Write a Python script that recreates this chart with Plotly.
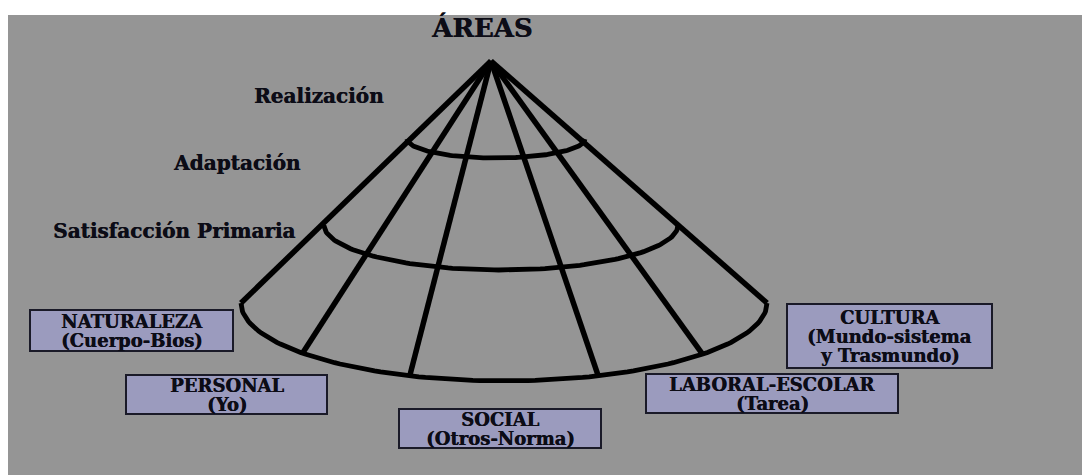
import numpy as np
import plotly.graph_objects as go

# --- diagram content -------------------------------------------------------
title = "ÁREAS"

# cone apex and the three elliptical rings (inner -> outer)
apex_x, apex_y = 491, 61
ring_labels = ["Realización", "Adaptación", "Satisfacción Primaria"]
ring_cx = [496, 501, 504]
ring_cy = [139, 225, 303]
ring_a = [89, 177, 263]
ring_b = [19, 45, 78]

# spokes end on the outer ring, given as ellipse angles (deg)
spoke_angles = [180, 140, 111, 69, 41, 0]

# area boxes
box_titles = ["NATURALEZA", "PERSONAL", "SOCIAL", "LABORAL-ESCOLAR", "CULTURA"]
box_subtitles = [
    ["(Cuerpo-Bios)"],
    ["(Yo)"],
    ["(Otros-Norma)"],
    ["(Tarea)"],
    ["(Mundo-sistema", "y Trasmundo)"],
]

# --- layout helpers (positions only) --------------------------------------
label_x = [319, 237, 174]
label_y = [96, 163, 231]
box_x0 = [30, 126, 399, 646, 787]
box_x1 = [233, 327, 601, 898, 992]
box_y0 = [310, 375, 409, 374, 304]
box_y1 = [351, 414, 448, 413, 368]

W, H = 1090, 475
PAD = 8  # page body margin, shift the view so it lines up with the window
BG = "#959595"
BOX_FILL = "#9b9bbe"
INK = "#0c0c16"
FONT = "DejaVu Serif"
HEAVY = f"0.5px 0 0 {INK}"  # thicken the bold text a little


def txt_font(size):
    return dict(family=FONT, size=size, color=INK, shadow=HEAVY)


fig = go.Figure()

# rings
t = np.linspace(0, np.pi, 120)
for cx, cy, a, b in zip(ring_cx, ring_cy, ring_a, ring_b):
    fig.add_trace(go.Scatter(
        x=cx + a * np.cos(t), y=cy + b * np.sin(t),
        mode="lines", line=dict(color="black", width=4.8),
        hoverinfo="skip", showlegend=False,
    ))

# spokes from the apex to the outer ring
sx, sy = [], []
for ang in spoke_angles:
    r = np.radians(ang)
    sx += [apex_x, ring_cx[-1] + ring_a[-1] * np.cos(r), None]
    sy += [apex_y, ring_cy[-1] + ring_b[-1] * np.sin(r), None]
fig.add_trace(go.Scatter(
    x=sx, y=sy, mode="lines", line=dict(color="black", width=5.5),
    hoverinfo="skip", showlegend=False,
))

shapes = [dict(type="rect", xref="x", yref="y", x0=7, x1=W + PAD, y0=15, y1=H + PAD,
               fillcolor=BG, line=dict(width=0), layer="below")]
annotations = [dict(x=482, y=27, text=f"<b>{title}</b>", showarrow=False,
                    font=txt_font(26))]

for txt, x, y in zip(ring_labels, label_x, label_y):
    annotations.append(dict(x=x, y=y, text=f"<b>{txt}</b>", showarrow=False,
                            font=txt_font(20)))

line_gap = 19
for ttl, subs, x0, x1, y0, y1 in zip(box_titles, box_subtitles, box_x0, box_x1, box_y0, box_y1):
    shapes.append(dict(type="rect", xref="x", yref="y", x0=x0, x1=x1, y0=y0, y1=y1,
                       fillcolor=BOX_FILL, line=dict(color="#1a1a28", width=2)))
    lines = [ttl] + subs
    yc = (y0 + y1) / 2 - line_gap * (len(lines) - 1) / 2
    for i, ln in enumerate(lines):
        annotations.append(dict(x=(x0 + x1) / 2, y=yc + i * line_gap, text=f"<b>{ln}</b>",
                                showarrow=False, font=txt_font(18)))

fig.update_layout(
    width=W, height=H,
    margin=dict(l=0, r=0, t=0, b=0),
    paper_bgcolor=BG, plot_bgcolor=BG,
    shapes=shapes, annotations=annotations,
    xaxis=dict(range=[PAD, W + PAD], visible=False, fixedrange=True),
    yaxis=dict(range=[H + PAD, PAD], visible=False, fixedrange=True),
)
# white page strips at top and left of the grey panel
fig.add_shape(type="rect", xref="x", yref="y", x0=PAD, x1=W + PAD, y0=PAD, y1=15,
              fillcolor="white", line=dict(width=0), layer="below")
fig.add_shape(type="rect", xref="x", yref="y", x0=PAD, x1=7, y0=PAD, y1=H + PAD,
              fillcolor="white", line=dict(width=0), layer="below")

fig.write_html("out.html")
